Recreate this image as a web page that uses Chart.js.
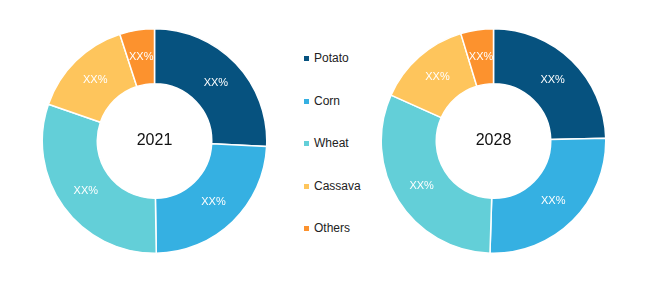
<!DOCTYPE html>
<html>
<head>
<meta charset="utf-8">
<script src="https://cdn.jsdelivr.net/npm/chart.js@4/dist/chart.umd.min.js"></script>
<style>
  html, body { margin: 0; padding: 0; background: #fff; width: 650px; height: 282px; overflow: hidden; }
  .wrap { position: absolute; top: 0; height: 282px; width: 227px; }
  #legend { position: absolute; left: 304px; top: 0; font-family: "Liberation Sans", Arial, sans-serif; font-size: 12px; color: #222; }
  .item { position: absolute; left: 0; white-space: nowrap; line-height: 12px; }
  .sw { display: inline-block; width: 5px; height: 5px; margin-right: 5px; vertical-align: 1px; }
</style>
</head>
<body>
<div class="wrap" style="left:41px"><canvas id="c1"></canvas></div>
<div class="wrap" style="left:380px"><canvas id="c2"></canvas></div>
<div id="legend"></div>
<script>
const categories = ["Potato", "Corn", "Wheat", "Cassava", "Others"];
const values2021 = [25.8, 24.0, 30.6, 14.7, 5.0];
const values2028 = [24.6, 25.9, 31.2, 13.6, 4.7];
const sliceLabel = "XX%";
const colors = ["#06527F", "#35B0E2", "#63CFD8", "#FEC55C", "#FC922E"];

const labelPlugin = {
  id: 'labels',
  afterDatasetsDraw(chart, args, opts) {
    const ctx = chart.ctx;
    const meta = chart.getDatasetMeta(0);
    ctx.save();
    ctx.textAlign = 'center';
    ctx.textBaseline = 'middle';
    ctx.fillStyle = '#ffffff';
    ctx.font = '11px "Liberation Sans", Arial, sans-serif';
    meta.data.forEach(arc => {
      const p = arc.tooltipPosition();
      ctx.fillText(sliceLabel, p.x, p.y);
    });
    const a = meta.data[0];
    ctx.fillStyle = '#111';
    ctx.font = '16px "Liberation Sans", Arial, sans-serif';
    ctx.fillText(opts.center, a.x, a.y);
    ctx.restore();
  }
};

function makeChart(id, values, year) {
  return new Chart(document.getElementById(id), {
    type: 'doughnut',
    data: {
      labels: categories,
      datasets: [{ data: values, backgroundColor: colors, borderColor: '#ffffff', borderWidth: 1.5 }]
    },
    options: {
      responsive: true,
      maintainAspectRatio: false,
      animation: false,
      cutout: '51%',
      layout: { padding: { top: 28, bottom: 28, left: 0, right: 0 } },
      plugins: { legend: { display: false }, tooltip: { enabled: false }, labels: { center: year } }
    },
    plugins: [labelPlugin]
  });
}
makeChart('c1', values2021, '2021');
makeChart('c2', values2028, '2028');

const legendY = [58, 101, 143, 186, 228];
const lg = document.getElementById('legend');
categories.forEach((c, i) => {
  const d = document.createElement('div');
  d.className = 'item';
  d.style.top = (legendY[i] - 6) + 'px';
  d.innerHTML = '<span class="sw" style="background:' + colors[i] + '"></span>' + c;
  lg.appendChild(d);
});
</script>
</body>
</html>
